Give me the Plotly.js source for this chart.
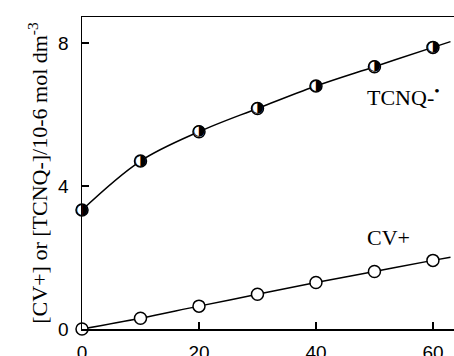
<!DOCTYPE html>
<html><head><meta charset="utf-8">
<script src="https://cdn.plot.ly/plotly-3.0.1.min.js"></script>
<style>body{margin:0;background:#fff}#c{width:454px;height:356px}</style>
</head><body><div id="c"></div>
<script>
// time (x) values
const times = [0, 10, 20, 30, 40, 50, 60];
// [TCNQ-.] / 10^-6 mol dm^-3
const tcnq = [3.33, 4.70, 5.52, 6.17, 6.80, 7.34, 7.88];
// [CV+] / 10^-6 mol dm^-3
const cv = [0.0, 0.30, 0.64, 0.97, 1.30, 1.61, 1.92];
// fitted curves (extending past last point)
const fitTimes = [0, 10, 20, 30, 40, 50, 60, 63];
const tcnqFit = [3.33, 4.70, 5.52, 6.17, 6.80, 7.34, 7.88, 8.04];
const cvFit = [0.0, 0.30, 0.64, 0.97, 1.30, 1.61, 1.92, 2.01];
const xTicks = [0, 20, 40, 60];
const yTicks = [0, 4, 8];

const serif = 'Liberation Serif, Times New Roman, serif';
const sans = 'Liberation Sans, Arial, sans-serif';

const traces = [
  {x: fitTimes, y: tcnqFit, mode: 'lines', line: {color: '#000', width: 1.5, shape: 'spline'}, hoverinfo: 'skip', cliponaxis: false},
  {x: fitTimes, y: cvFit, mode: 'lines', line: {color: '#000', width: 1.5, shape: 'spline'}, hoverinfo: 'skip', cliponaxis: false},
  {x: times, y: cv, mode: 'markers', name: 'CV+', cliponaxis: false,
   marker: {symbol: 'circle', size: 12, color: '#fff', line: {color: '#000', width: 1.5}}},
  {x: times, y: tcnq, mode: 'markers', name: 'TCNQ', cliponaxis: false,
   marker: {symbol: 'circle', size: 12, color: '#fff', line: {color: '#000', width: 1.5}}},
  {x: times, y: tcnq, mode: 'text', text: times.map(() => '\u25D1'), cliponaxis: false,
   textposition: 'middle center', textfont: {family: 'DejaVu Sans', size: 15, color: '#000'}, hoverinfo: 'skip'}
];

const layout = {
  width: 454, height: 356,
  margin: {l: 82, r: 0, t: 17, b: 27},
  paper_bgcolor: '#fff', plot_bgcolor: '#fff',
  showlegend: false,
  xaxis: {
    range: [0, 63.6], tickvals: xTicks, ticktext: xTicks.map(String),
    ticks: 'inside', ticklen: 7, tickwidth: 1.5, tickcolor: '#000',
    showline: true, mirror: true, linecolor: '#000', linewidth: 1.5,
    showgrid: false, zeroline: false, ticklabelstandoff: 6,
    tickfont: {family: sans, size: 19, color: '#000'}
  },
  yaxis: {
    range: [0, 8.73], tickvals: yTicks, ticktext: yTicks.map(String),
    ticks: 'inside', ticklen: 7, tickwidth: 1.5, tickcolor: '#000',
    showline: true, mirror: false, linecolor: '#000', linewidth: 1.5,
    showgrid: false, zeroline: false, ticklabelstandoff: 8,
    tickfont: {family: sans, size: 19, color: '#000'},
    title: {text: '[CV+] or [TCNQ-]/10-6 mol dm<sup>-3</sup>', standoff: 4,
            font: {family: serif, size: 22, color: '#000'}}
  },
  annotations: [
    {x: 48.3, y: 6.52, xanchor: 'left', yanchor: 'middle', showarrow: false,
     text: 'TCNQ-<sup>\u2022</sup>', font: {family: serif, size: 22, color: '#000'}},
    {x: 48.3, y: 2.57, xanchor: 'left', yanchor: 'middle', showarrow: false,
     text: 'CV+', font: {family: serif, size: 22, color: '#000'}}
  ]
};

Plotly.newPlot('c', traces, layout, {displayModeBar: false, staticPlot: true});
</script></body></html>
